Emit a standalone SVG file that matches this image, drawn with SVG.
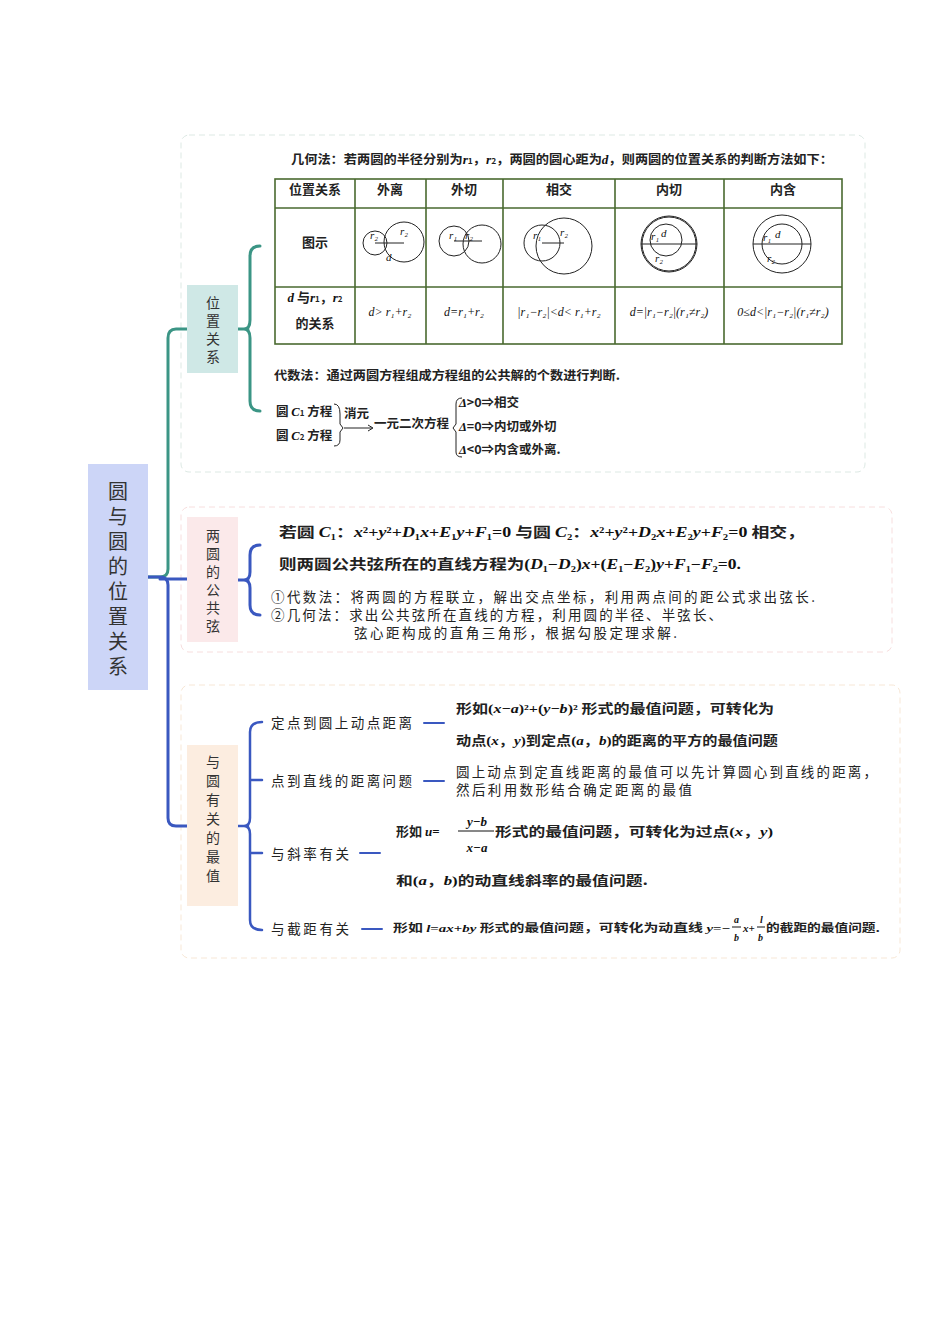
<svg xmlns="http://www.w3.org/2000/svg" width="950" height="1344" viewBox="0 0 950 1344">
<style>
.t{font-family:"Noto Sans CJK SC","Noto Sans",sans-serif;fill:#222}
.s{font-family:"Liberation Serif","Noto Serif CJK SC","Noto Sans CJK SC",serif;fill:#111}
.b{font-weight:bold}
.v{font-family:"Noto Sans CJK SC",sans-serif;font-size:14px;fill:#333;text-anchor:middle}
.c{fill:none;stroke:#222;stroke-width:1}
.g{fill:none;stroke:#4a6a30;stroke-width:1.6}
</style>
<rect width="950" height="1344" fill="#fff"/>
<rect x="181" y="135" width="684" height="337" rx="8" fill="none" stroke="#dde9e4" stroke-dasharray="6 4"/>
<rect x="181" y="507" width="711" height="145" rx="8" fill="none" stroke="#f7dede" stroke-dasharray="6 4"/>
<rect x="181" y="685" width="719" height="273" rx="8" fill="none" stroke="#f7e7d6" stroke-dasharray="6 4"/>
<g id="connectors" fill="none" stroke-linecap="round">
<path d="M148 577 H160 Q168 577 168 569 V338 Q168 329 176 329 H188" stroke="#3b9585" stroke-width="3"/>
<path d="M148 577 H160 Q168 577 168 585 V818 Q168 826 176 826 H188" stroke="#3a58c0" stroke-width="3"/>
<path d="M160 579 H188" stroke="#3a58c0" stroke-width="3"/>
<path d="M238 329 H248 M260 246 Q250 246 250 256 V320 Q250 329 244 329 Q250 329 250 338 V401 Q250 411 260 411" stroke="#3b9585" stroke-width="3"/>
<path d="M238 580 H248 M260 545 Q250 545 250 555 V572 Q250 580 244 580 Q250 580 250 588 V605 Q250 615 260 615" stroke="#3a58c0" stroke-width="3"/>
<path d="M238 826 H248 M262 722 Q250 722 250 732 V818 Q250 826 244 826 Q250 826 250 834 V920 Q250 930 262 930 M250 780 H262 M250 853 H262" stroke="#3a58c0" stroke-width="2.5"/>
<path d="M424 723 H444 M424 781 H444 M360 853 H380 M362 929 H382" stroke="#3a58c0" stroke-width="2"/>
</g>
<g id="root"><rect x="88" y="464" width="60" height="226" fill="#ccd5f7"/>
<text class="v" style="font-size:20px" x="118"><tspan x="118" y="499">圆</tspan><tspan x="118" y="524">与</tspan><tspan x="118" y="549">圆</tspan><tspan x="118" y="574">的</tspan><tspan x="118" y="599">位</tspan><tspan x="118" y="624">置</tspan><tspan x="118" y="649">关</tspan><tspan x="118" y="674">系</tspan></text></g>
<g id="n1"><rect x="187" y="285" width="51" height="88" fill="#cfe8e6"/>
<text class="v"><tspan x="213" y="308">位</tspan><tspan x="213" y="326">置</tspan><tspan x="213" y="344">关</tspan><tspan x="213" y="362">系</tspan></text></g>
<g id="n2"><rect x="187" y="517" width="51" height="125" fill="#fbe9ea"/>
<text class="v"><tspan x="213" y="541">两</tspan><tspan x="213" y="559">圆</tspan><tspan x="213" y="577">的</tspan><tspan x="213" y="595">公</tspan><tspan x="213" y="613">共</tspan><tspan x="213" y="631">弦</tspan></text></g>
<g id="n3"><rect x="187" y="745" width="51" height="161" fill="#fcede0"/>
<text class="v"><tspan x="213" y="767">与</tspan><tspan x="213" y="786">圆</tspan><tspan x="213" y="805">有</tspan><tspan x="213" y="824">关</tspan><tspan x="213" y="843">的</tspan><tspan x="213" y="862">最</tspan><tspan x="213" y="881">值</tspan></text></g>
<g id="geom">
<text class="t b" x="291" y="164" font-size="12.5" textLength="542" lengthAdjust="spacingAndGlyphs">几何法：若两圆的半径分别为<tspan class="s" font-style="italic">r</tspan><tspan font-size="8">1</tspan>，<tspan class="s" font-style="italic">r</tspan><tspan font-size="8">2</tspan>，两圆的圆心距为<tspan class="s" font-style="italic">d</tspan>，则两圆的位置关系的判断方法如下：</text>
<rect x="275" y="179" width="567" height="165" class="g"/>
<path d="M275 208 H842 M275 287 H842 M355 179 V344 M426 179 V344 M503 179 V344 M615 179 V344 M724 179 V344" class="g"/>
<g class="t b" font-size="13" text-anchor="middle">
<text x="315" y="194">位置关系</text><text x="390" y="194">外离</text><text x="464" y="194">外切</text><text x="559" y="194">相交</text><text x="669" y="194">内切</text><text x="783" y="194">内含</text>
<text x="315" y="247">图示</text>
<text x="315" y="302"><tspan class="s" font-style="italic">d</tspan> 与<tspan class="s" font-style="italic">r</tspan><tspan font-size="8">1</tspan>，<tspan class="s" font-style="italic">r</tspan><tspan font-size="8">2</tspan></text>
<text x="315" y="328">的关系</text>
</g>
<g class="s" font-size="12" text-anchor="middle" font-style="italic">
<text x="390" y="316">d&gt; r₁+r₂</text><text x="464" y="316">d=r₁+r₂</text><text x="559" y="316">|r₁−r₂|&lt;d&lt; r₁+r₂</text><text x="669" y="316">d=|r₁−r₂|(r₁≠r₂)</text><text x="783" y="316">0≤d&lt;|r₁−r₂|(r₁≠r₂)</text>
</g>
<circle cx="375" cy="243" r="12" class="c"/><circle cx="404" cy="242" r="20" class="c"/><path d="M375 243 H404" class="c"/>
<circle cx="454" cy="241" r="15" class="c"/><circle cx="482" cy="244" r="19" class="c"/><path d="M454 241 H482" class="c"/>
<circle cx="542" cy="243" r="18" class="c"/><circle cx="564" cy="246" r="28" class="c"/><path d="M542 243 H564" class="c"/>
<circle cx="669" cy="244" r="28" class="c"/><circle cx="669" cy="244" r="27" class="c"/><circle cx="666" cy="240" r="16" class="c"/><path d="M641 244 H697" class="c"/>
<circle cx="782" cy="244" r="29" class="c"/><circle cx="782" cy="244" r="20" class="c"/><path d="M753 244 H811" class="c"/>
<g class="s" font-size="11" font-style="italic"><text x="370" y="239">r₂</text><text x="400" y="235">r₂</text><text x="386" y="261">d</text><text x="449" y="239">r₁</text><text x="465" y="239">r₂</text><text x="533" y="239">r₁</text><text x="560" y="236">r₂</text><text x="651" y="240">r₁</text><text x="661" y="237">d</text><text x="655" y="262">r₂</text><text x="763" y="241">r₁</text><text x="775" y="238">d</text><text x="767" y="262">r₂</text></g>
</g>
<g id="alg" class="t" font-size="12.5">
<text class="b" x="274" y="380" textLength="346" lengthAdjust="spacingAndGlyphs">代数法：通过两圆方程组成方程组的公共解的个数进行判断.</text>
<text class="b" x="276" y="416">圆 <tspan class="s" font-style="italic">C</tspan><tspan font-size="8">1</tspan> 方程</text>
<text class="b" x="276" y="440">圆 <tspan class="s" font-style="italic">C</tspan><tspan font-size="8">2</tspan> 方程</text>
<path d="M334 404 Q340 404 340 414 V424 L343 428 L340 432 V440 Q340 446 334 446" class="c"/>
<text class="b" x="344" y="418">消元</text>
<path d="M344 428 H372" class="c"/><path d="M368 425 L373 428 L368 431" class="c"/>
<text class="b" x="374" y="428">一元二次方程</text>
<path d="M462 398 Q456 398 456 404 V424 L453 428 L456 432 V452 Q456 457 462 457" class="c"/>
<text class="b" x="459" y="407"><tspan class="s" font-style="italic">Δ</tspan>&gt;0⇒相交</text>
<text class="b" x="459" y="431"><tspan class="s" font-style="italic">Δ</tspan>=0⇒内切或外切</text>
<text class="b" x="459" y="454"><tspan class="s" font-style="italic">Δ</tspan>&lt;0⇒内含或外离.</text>
</g>
<g id="chord" font-size="14">
<text class="t b" x="279" y="537" textLength="526" lengthAdjust="spacingAndGlyphs">若圆 <tspan class="s" font-style="italic">C</tspan><tspan class="s">₁</tspan>：<tspan class="s" font-style="italic">x</tspan><tspan class="s">²+</tspan><tspan class="s" font-style="italic">y</tspan><tspan class="s">²+</tspan><tspan class="s" font-style="italic">D</tspan><tspan class="s">₁</tspan><tspan class="s" font-style="italic">x</tspan><tspan class="s">+</tspan><tspan class="s" font-style="italic">E</tspan><tspan class="s">₁</tspan><tspan class="s" font-style="italic">y</tspan><tspan class="s">+</tspan><tspan class="s" font-style="italic">F</tspan><tspan class="s">₁=0</tspan> 与圆 <tspan class="s" font-style="italic">C</tspan><tspan class="s">₂</tspan>：<tspan class="s" font-style="italic">x</tspan><tspan class="s">²+</tspan><tspan class="s" font-style="italic">y</tspan><tspan class="s">²+</tspan><tspan class="s" font-style="italic">D</tspan><tspan class="s">₂</tspan><tspan class="s" font-style="italic">x</tspan><tspan class="s">+</tspan><tspan class="s" font-style="italic">E</tspan><tspan class="s">₂</tspan><tspan class="s" font-style="italic">y</tspan><tspan class="s">+</tspan><tspan class="s" font-style="italic">F</tspan><tspan class="s">₂=0</tspan> 相交，</text>
<text class="t b" x="279" y="569" textLength="462" lengthAdjust="spacingAndGlyphs">则两圆公共弦所在的直线方程为<tspan class="s">(</tspan><tspan class="s" font-style="italic">D</tspan><tspan class="s">₁−</tspan><tspan class="s" font-style="italic">D</tspan><tspan class="s">₂)</tspan><tspan class="s" font-style="italic">x</tspan><tspan class="s">+(</tspan><tspan class="s" font-style="italic">E</tspan><tspan class="s">₁−</tspan><tspan class="s" font-style="italic">E</tspan><tspan class="s">₂)</tspan><tspan class="s" font-style="italic">y</tspan><tspan class="s">+</tspan><tspan class="s" font-style="italic">F</tspan><tspan class="s">₁−</tspan><tspan class="s" font-style="italic">F</tspan><tspan class="s">₂=0.</tspan></text>
<g class="t" font-size="13.5"><text x="271" y="602" textLength="544" lengthAdjust="spacing">①代数法：将两圆的方程联立，解出交点坐标，利用两点间的距公式求出弦长.</text>
<text x="271" y="620" textLength="451" lengthAdjust="spacing">②几何法：求出公共弦所在直线的方程，利用圆的半径、半弦长、</text>
<text x="354" y="638" textLength="323" lengthAdjust="spacing">弦心距构成的直角三角形，根据勾股定理求解.</text></g>
</g>
<g id="extreme" font-size="13.5">
<g class="t"><text x="271" y="728" textLength="141" lengthAdjust="spacing">定点到圆上动点距离</text><text x="271" y="786" textLength="141" lengthAdjust="spacing">点到直线的距离问题</text><text x="271" y="859" textLength="78" lengthAdjust="spacing">与斜率有关</text><text x="271" y="934" textLength="78" lengthAdjust="spacing">与截距有关</text>
<text x="456" y="777" textLength="421" lengthAdjust="spacing">圆上动点到定直线距离的最值可以先计算圆心到直线的距离，</text>
<text x="456" y="795" textLength="236" lengthAdjust="spacing">然后利用数形结合确定距离的最值</text></g>
<text class="t b" x="456" y="713" font-size="13" textLength="318" lengthAdjust="spacingAndGlyphs">形如<tspan class="s">(</tspan><tspan class="s" font-style="italic">x</tspan><tspan class="s">−</tspan><tspan class="s" font-style="italic">a</tspan><tspan class="s">)²+(</tspan><tspan class="s" font-style="italic">y</tspan><tspan class="s">−</tspan><tspan class="s" font-style="italic">b</tspan><tspan class="s">)²</tspan> 形式的最值问题，可转化为</text>
<text class="t b" x="456" y="745" font-size="13" textLength="322" lengthAdjust="spacingAndGlyphs">动点<tspan class="s">(</tspan><tspan class="s" font-style="italic">x</tspan>，<tspan class="s" font-style="italic">y</tspan><tspan class="s">)</tspan>到定点<tspan class="s">(</tspan><tspan class="s" font-style="italic">a</tspan>，<tspan class="s" font-style="italic">b</tspan><tspan class="s">)</tspan>的距离的平方的最值问题</text>
<text class="t b" x="396" y="836" font-size="13">形如 <tspan class="s" font-style="italic">u</tspan><tspan class="s">=</tspan></text>
<text class="s b" x="477" y="826" font-size="13" text-anchor="middle" font-style="italic">y−b</text>
<path d="M458 831 H494" stroke="#111" stroke-width="1"/>
<text class="s b" x="477" y="852" font-size="13" text-anchor="middle" font-style="italic">x−a</text>
<text class="t b" x="495" y="836" font-size="13" textLength="278" lengthAdjust="spacingAndGlyphs">形式的最值问题，可转化为过点<tspan class="s">(</tspan><tspan class="s" font-style="italic">x</tspan>，<tspan class="s" font-style="italic">y</tspan><tspan class="s">)</tspan></text>
<text class="t b" x="396" y="885" font-size="13" textLength="252" lengthAdjust="spacingAndGlyphs">和<tspan class="s">(</tspan><tspan class="s" font-style="italic">a</tspan>，<tspan class="s" font-style="italic">b</tspan><tspan class="s">)</tspan>的动直线斜率的最值问题.</text>
<text class="t b" x="393" y="932" font-size="11" textLength="337" lengthAdjust="spacingAndGlyphs">形如 <tspan class="s" font-style="italic">l</tspan><tspan class="s">=</tspan><tspan class="s" font-style="italic">ax</tspan><tspan class="s">+</tspan><tspan class="s" font-style="italic">by</tspan> 形式的最值问题，可转化为动直线 <tspan class="s" font-style="italic">y</tspan><tspan class="s">=−</tspan></text>
<text class="s b" x="734" y="923" font-size="10" font-style="italic">a</text><path d="M732 927 H741" stroke="#111"/><text class="s b" x="734" y="941" font-size="10" font-style="italic">b</text>
<text class="s b" x="743" y="932" font-size="11" font-style="italic">x+</text>
<text class="s b" x="760" y="923" font-size="10" font-style="italic">l</text><path d="M757 927 H765" stroke="#111"/><text class="s b" x="758" y="941" font-size="10" font-style="italic">b</text>
<text class="t b" x="766" y="932" font-size="11" textLength="114" lengthAdjust="spacingAndGlyphs">的截距的最值问题.</text>
</g>
</svg>
